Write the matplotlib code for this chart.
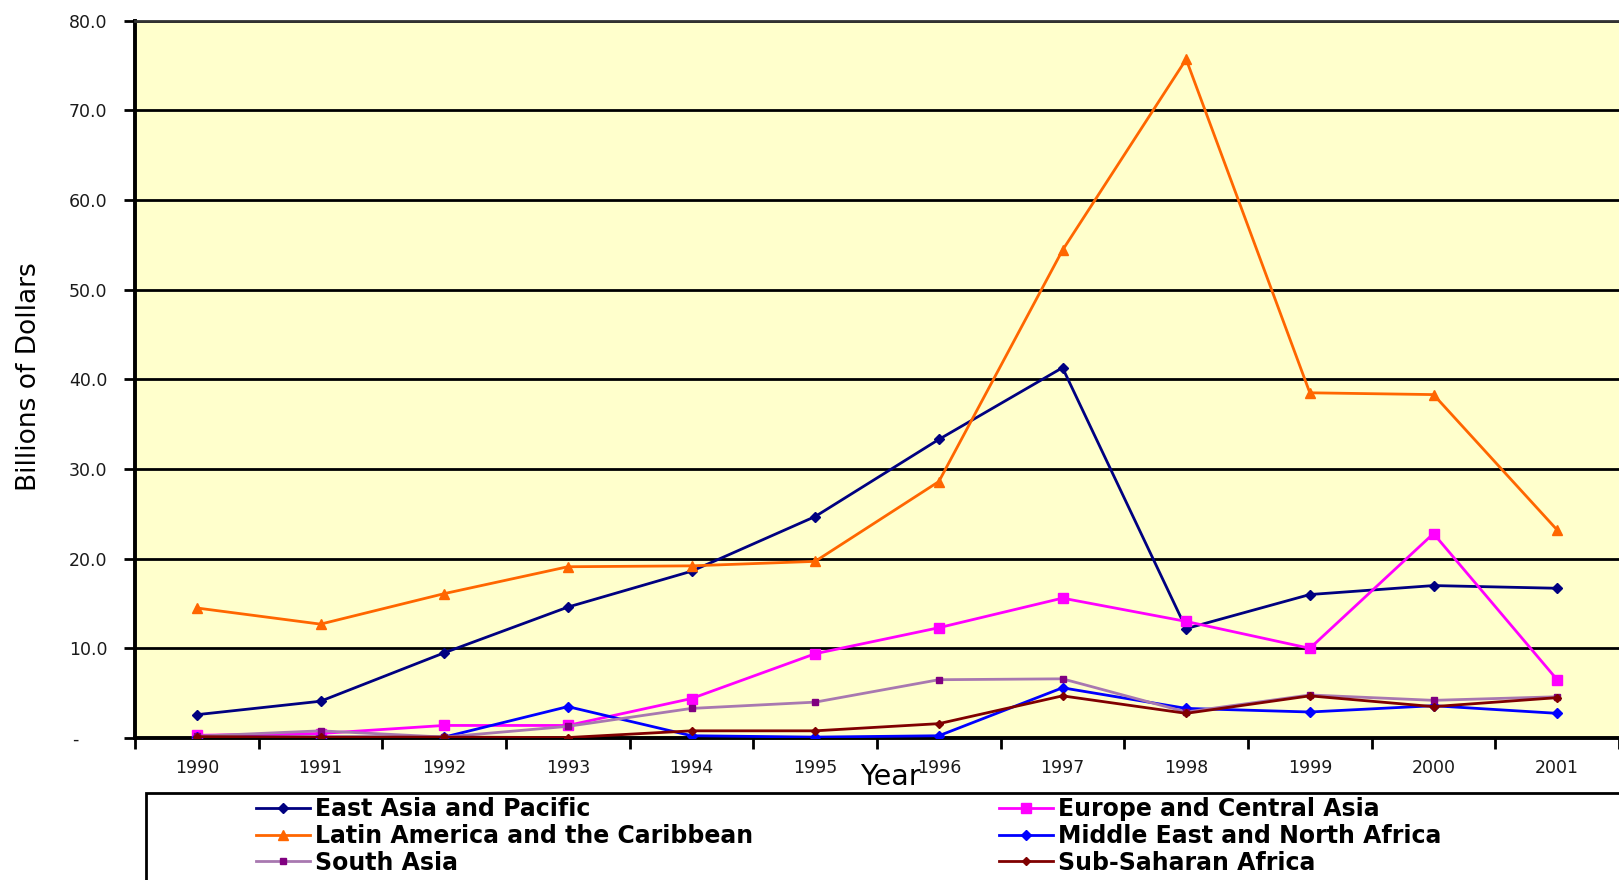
import matplotlib
matplotlib.use('Agg')
import matplotlib.pyplot as plt
import numpy as np
from matplotlib.patches import Rectangle

# net private capital flows by region, billions of dollars
years = ['1990', '1991', '1992', '1993', '1994', '1995',
         '1996', '1997', '1998', '1999', '2000', '2001']
east_asia = [2.6, 4.1, 9.5, 14.6, 18.6, 24.7, 33.3, 41.3, 12.2, 16.0, 17.0, 16.7]
europe_ca = [0.3, 0.5, 1.4, 1.4, 4.4, 9.4, 12.3, 15.6, 13.0, 10.0, 22.8, 6.5]
latin_am = [14.5, 12.7, 16.1, 19.1, 19.2, 19.7, 28.6, 54.4, 75.7, 38.5, 38.3, 23.2]
mid_east = [0.1, 0.1, 0.1, 3.5, 0.25, 0.1, 0.25, 5.6, 3.3, 2.9, 3.6, 2.75]
south_asia = [0.2, 0.8, 0.1, 1.3, 3.3, 4.0, 6.5, 6.6, 2.9, 4.8, 4.2, 4.6]
sub_sahara = [0.15, 0.1, 0.1, 0.05, 0.8, 0.8, 1.6, 4.7, 2.75, 4.7, 3.5, 4.5]

W, H = 1619, 880
fig = plt.figure(figsize=(W / 100, H / 100), dpi=100)
ax = fig.add_axes([135 / W, 1 - 738 / H, (W - 135) / W, (738 - 20.7) / H])
ax.set_facecolor('#FFFFCC')

x = np.arange(len(years)) + 0.5

# label, values, line colour, marker, marker size, marker colour
series = [
    ('East Asia and Pacific', east_asia, '#000080', 'D', 5, '#000080'),
    ('Europe and Central Asia', europe_ca, '#FF00FF', 's', 7, '#FF00FF'),
    ('Latin America and the Caribbean', latin_am, '#FF6600', '^', 7, '#FF6600'),
    ('Middle East and North Africa', mid_east, '#0000FF', 'D', 5, '#0000FF'),
    ('South Asia', south_asia, '#A878B0', 's', 5, '#800080'),
    ('Sub-Saharan Africa', sub_sahara, '#800000', 'D', 4, '#800000'),
]
lines = {}
for label, vals, col, mk, ms, mc in series:
    ln, = ax.plot(x, vals, color=col, lw=2.0, marker=mk, ms=ms,
                  mfc=mc, mec=mc, label=label, zorder=3)
    lines[label] = ln

ax.set_xlim(0, 12)
ax.set_ylim(0, 80)
ax.set_yticks(np.arange(0, 81, 10))
ax.set_yticklabels(['-     '] + ['%.1f' % v for v in range(10, 81, 10)])
ax.yaxis.grid(True, color='black', lw=2)
ax.set_axisbelow(True)

ax.set_xticks(np.arange(13))
ax.set_xticklabels([])
ax.set_xticks(x, minor=True)
ax.set_xticklabels(years, minor=True)
ax.tick_params(axis='x', which='major', length=8, width=2, direction='out')
ax.tick_params(axis='x', which='minor', length=0, pad=15, labelsize=12.5,
               labelcolor='#1a1a1a')
ax.tick_params(axis='y', length=8, width=2, pad=12, labelsize=12.5,
               labelcolor='#1a1a1a')

for s in ['left', 'bottom']:
    ax.spines[s].set_linewidth(2.8)
ax.spines['right'].set_visible(False)
ax.spines['top'].set_color('#333333')
ax.spines['top'].set_linewidth(2)

fig.text(29 / W, 1 - 377 / H, 'Billions of Dollars', rotation=90,
         fontsize=19, ha='center', va='center')
fig.text(890 / W, 1 - 777 / H, 'Year', fontsize=20.5, ha='center', va='center')

# legend box running off the bottom/right edge
fig.patches.append(Rectangle((146 / W, -0.05), 1.0, (1 - 793 / H) + 0.05,
                             transform=fig.transFigure, fill=False,
                             lw=2, ec='black'))

leg_kw = dict(loc='upper left', frameon=False, handlelength=2.3,
              handletextpad=0.2, labelspacing=0.12, borderpad=0,
              borderaxespad=0, prop={'weight': 'bold', 'size': 17})
left_col = ['East Asia and Pacific', 'Latin America and the Caribbean', 'South Asia']
right_col = ['Europe and Central Asia', 'Middle East and North Africa', 'Sub-Saharan Africa']
leg1 = fig.legend(handles=[lines[k] for k in left_col],
                  bbox_to_anchor=(256 / W, 1 - 797 / H), **leg_kw)
leg2 = fig.legend(handles=[lines[k] for k in right_col],
                  bbox_to_anchor=(999 / W, 1 - 797 / H), **leg_kw)

fig.savefig('out.png', dpi=100)
